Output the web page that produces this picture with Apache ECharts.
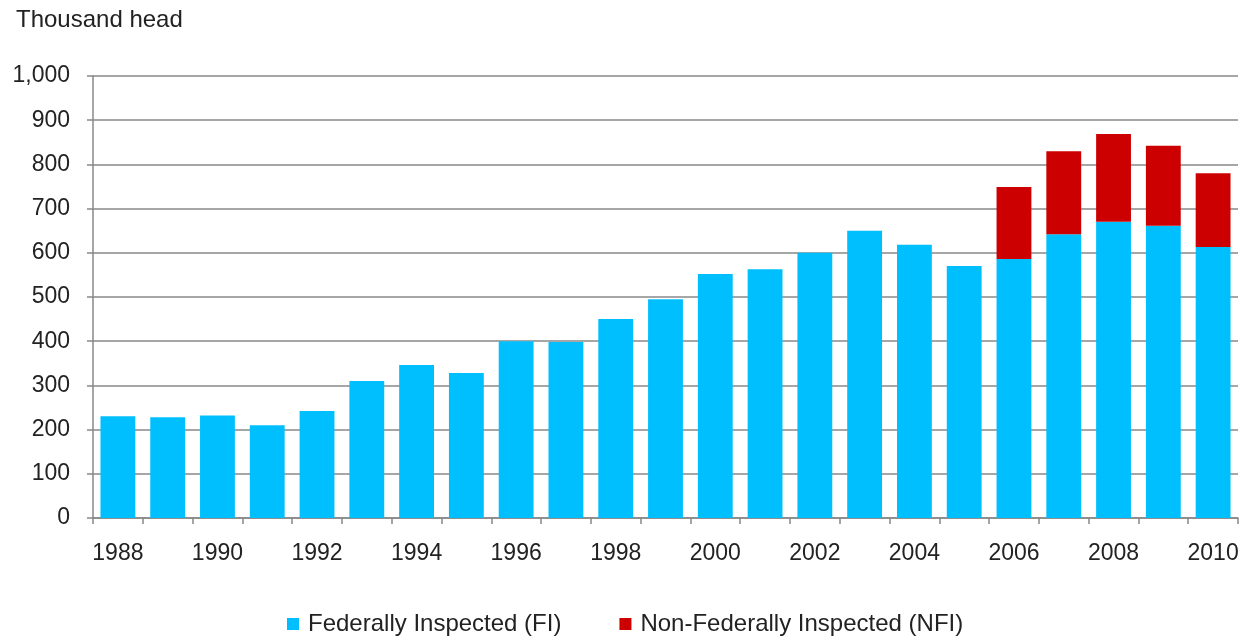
<!DOCTYPE html>
<html>
<head>
<meta charset="utf-8">
<script src="https://cdn.jsdelivr.net/npm/echarts@6/dist/echarts.min.js"></script>
<style>
  html, body { margin: 0; padding: 0; background: #fff; }
  #chart { width: 1250px; height: 636px; }
</style>
</head>
<body>
<div id="chart"></div>
<script>
// years on x axis
var years = ['1988', '1989', '1990', '1991', '1992', '1993', '1994', '1995', '1996', '1997', '1998', '1999',
  '2000', '2001', '2002', '2003', '2004', '2005', '2006', '2007', '2008', '2009', '2010'];
// Federally Inspected (thousand head)
var fiData = [230, 228, 232, 210, 242, 310, 346, 328, 400, 398, 450, 495,
  552, 563, 600, 650, 618, 570, 586, 642, 670, 661, 613];
// Non-Federally Inspected (thousand head), only from 2006
var nfiData = [null, null, null, null, null, null, null, null, null, null, null, null,
  null, null, null, null, null, null, 163, 188, 199, 181, 167];

var chart = echarts.init(document.getElementById('chart'));
var font = 'Liberation Sans, Arial, sans-serif';

var option = {
  animation: false,
  title: {
    text: 'Thousand head',
    left: 11,
    top: 3,
    textStyle: { fontFamily: font, fontSize: 24, fontWeight: 'normal', color: '#222' }
  },
  legend: {
    top: 607,
    left: 282,
    itemWidth: 12,
    itemHeight: 12,
    itemGap: 58,
    icon: 'rect',
    textStyle: { fontFamily: font, fontSize: 24, color: '#222', padding: [0, 0, 0, 4] },
    data: ['Federally Inspected (FI)', 'Non-Federally Inspected (NFI)']
  },
  grid: { left: 93, right: 12, top: 76, bottom: 118 },
  xAxis: {
    type: 'category',
    data: years,
    axisLine: { lineStyle: { color: '#888', width: 1.5 } },
    axisTick: { show: true, interval: 0, length: 6, lineStyle: { color: '#888', width: 1.5 } },
    axisLabel: { interval: 1, margin: 24, fontFamily: font, fontSize: 23, color: '#222' }
  },
  yAxis: {
    type: 'value',
    min: 0,
    max: 1000,
    interval: 100,
    axisLine: { show: true, lineStyle: { color: '#888', width: 1.5 } },
    axisTick: { show: true, inside: false, length: 6, lineStyle: { color: '#888', width: 1.5 } },
    splitLine: { lineStyle: { color: '#888', width: 1.5 } },
    axisLabel: {
      margin: 23,
      fontFamily: font, fontSize: 23, color: '#222',
      formatter: function (v) { return v.toLocaleString('en-US'); }
    }
  },
  series: [
    {
      name: 'Federally Inspected (FI)',
      type: 'bar',
      stack: 'total',
      data: fiData,
      barCategoryGap: '30%',
      itemStyle: { color: '#00bfff' }
    },
    {
      name: 'Non-Federally Inspected (NFI)',
      type: 'bar',
      stack: 'total',
      data: nfiData,
      itemStyle: { color: '#cc0000' }
    }
  ]
};

chart.setOption(option);
</script>
</body>
</html>
